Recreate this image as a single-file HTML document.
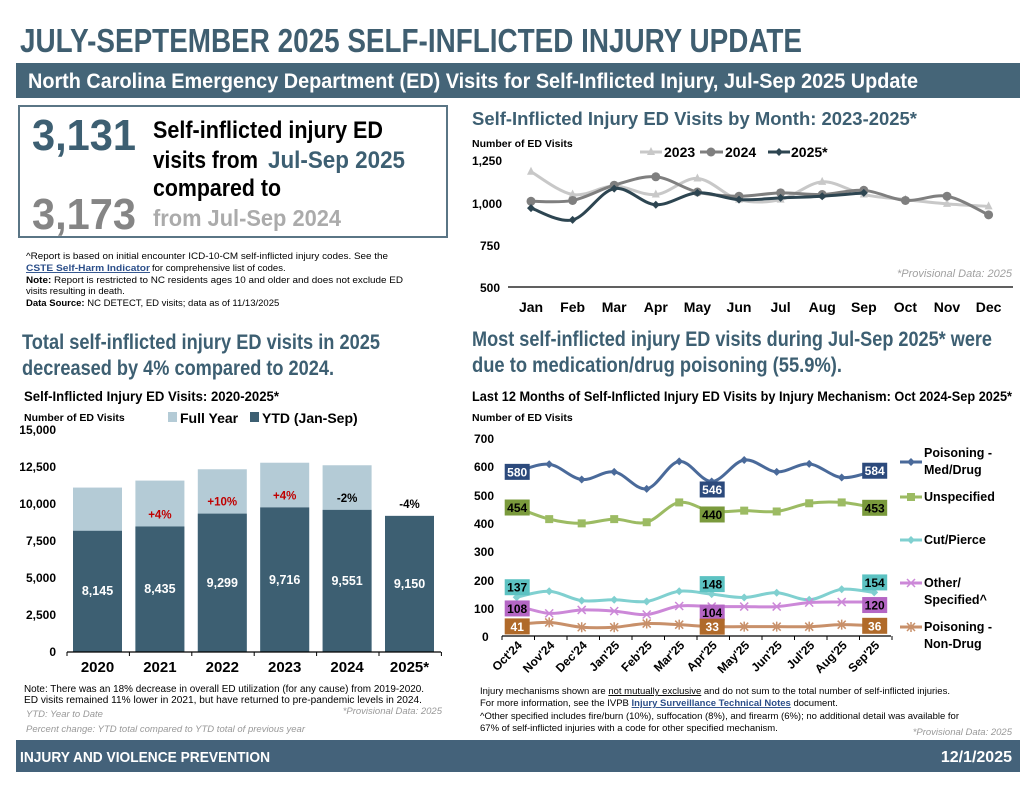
<!DOCTYPE html>
<html><head><meta charset="utf-8"><style>
html,body{margin:0;padding:0;background:#fff;}
svg{display:block;font-family:"Liberation Sans Narrow","Liberation Sans",sans-serif;}
.c{font-family:"Liberation Sans Narrow","Liberation Sans",sans-serif;font-weight:bold;}
.a{font-family:"Liberation Sans",sans-serif;}
</style></head><body>
<svg id="s" width="1036" height="790" viewBox="0 0 1036 790" xmlns="http://www.w3.org/2000/svg">
<rect width="1036" height="790" fill="#fff"/>
<text x="20" y="52" class="c" font-size="33" fill="#3f5e70" textLength="782" lengthAdjust="spacingAndGlyphs">JULY-SEPTEMBER 2025 SELF-INFLICTED INJURY UPDATE</text>
<rect x="16" y="63" width="1004" height="35" fill="#456578"/>
<text x="28" y="88" class="c" font-size="21" fill="#fff" textLength="890" lengthAdjust="spacingAndGlyphs">North Carolina Emergency Department (ED) Visits for Self-Inflicted Injury, Jul-Sep 2025 Update</text>

<rect x="19" y="106" width="428" height="131" fill="none" stroke="#5a7585" stroke-width="2"/>
<text x="32" y="150" class="c" font-size="44" fill="#3d5f72" textLength="104" lengthAdjust="spacingAndGlyphs">3,131</text>
<text x="32" y="229" class="c" font-size="44" fill="#858585" textLength="104" lengthAdjust="spacingAndGlyphs">3,173</text>
<text x="153" y="138" class="c" font-size="24" fill="#000" textLength="230" lengthAdjust="spacingAndGlyphs">Self-inflicted injury ED</text>
<text x="153" y="168" class="c" font-size="24" fill="#000" textLength="105" lengthAdjust="spacingAndGlyphs">visits from</text>
<text x="268" y="168" class="c" font-size="24" fill="#3d5f72" textLength="137" lengthAdjust="spacingAndGlyphs">Jul-Sep 2025</text>
<text x="153" y="196" class="c" font-size="24" fill="#000" textLength="128" lengthAdjust="spacingAndGlyphs">compared to</text>
<text x="153" y="226" class="c" font-size="23" fill="#ababab" textLength="188" lengthAdjust="spacingAndGlyphs">from Jul-Sep 2024</text>

<g class="a" font-size="9.5" fill="#000">
<text x="26" y="259" textLength="362" lengthAdjust="spacingAndGlyphs">^Report is based on initial encounter ICD-10-CM self-inflicted injury codes. See the</text>
<text x="26" y="271" fill="#2c4f8a" font-weight="bold" text-decoration="underline" textLength="124" lengthAdjust="spacingAndGlyphs">CSTE Self-Harm Indicator</text>
<text x="152" y="271">for comprehensive list of codes.</text>
<text x="26" y="283" textLength="377" lengthAdjust="spacingAndGlyphs"><tspan font-weight="bold">Note:</tspan> Report is restricted to NC residents ages 10 and older and does not exclude ED</text>
<text x="26" y="294">visits resulting in death.</text>
<text x="26" y="306"><tspan font-weight="bold">Data Source:</tspan> NC DETECT, ED visits; data as of 11/13/2025</text>
</g>

<text x="472" y="125" class="c" font-size="18" fill="#3d5f72" textLength="445" lengthAdjust="spacingAndGlyphs">Self-Inflicted Injury ED Visits by Month: 2023-2025*</text>
<text x="472" y="147" class="c" font-size="10.5" fill="#000">Number of ED Visits</text>
<g class="c" font-size="12" fill="#000">
<text x="472" y="165">1,250</text><text x="472" y="208">1,000</text><text x="480" y="250">750</text><text x="480" y="292">500</text>
</g>
<line x1="508" y1="287" x2="1013" y2="287" stroke="#000" stroke-width="1.3"/>
<g class="c" font-size="14" fill="#000" text-anchor="middle" id="months"></g>
<text x="1012" y="277" class="a" font-style="italic" font-size="11" fill="#a0a0a0" text-anchor="end">*Provisional Data: 2025</text>
<g id="topc"></g>
<line x1="640" y1="152" x2="662" y2="152" stroke="#c8c8c8" stroke-width="3"/><path d="M651 147 L655 155 L647 155 Z" fill="#c8c8c8"/>
<text x="664" y="157" class="c" font-size="14" fill="#000">2023</text>
<line x1="700" y1="152" x2="723" y2="152" stroke="#7f7f7f" stroke-width="3"/><circle cx="711" cy="152" r="4.5" fill="#7f7f7f"/>
<text x="725" y="157" class="c" font-size="14" fill="#000">2024</text>
<line x1="768" y1="152" x2="790" y2="152" stroke="#2d4551" stroke-width="3"/><path d="M779 148 L783 152 L779 156 L775 152 Z" fill="#2d4551"/>
<text x="791" y="157" class="c" font-size="14" fill="#000">2025*</text>

<text x="22" y="349" class="c" font-size="21" fill="#3d5f72" textLength="358" lengthAdjust="spacingAndGlyphs">Total self-inflicted injury ED visits in 2025</text>
<text x="22" y="375" class="c" font-size="21" fill="#3d5f72" textLength="312" lengthAdjust="spacingAndGlyphs">decreased by 4% compared to 2024.</text>
<text x="24" y="401" class="c" font-size="13.5" fill="#000" textLength="255" lengthAdjust="spacingAndGlyphs">Self-Inflicted Injury ED Visits: 2020-2025*</text>
<text x="24" y="421" class="c" font-size="10.5" fill="#000">Number of ED Visits</text>
<rect x="168" y="412" width="9" height="10" fill="#b4cbd6"/>
<text x="180" y="423" class="c" font-size="14" fill="#000">Full Year</text>
<rect x="250" y="412" width="9" height="10" fill="#3d5f72"/>
<text x="262" y="423" class="c" font-size="14" fill="#000">YTD (Jan-Sep)</text>
<g class="c" font-size="12" fill="#000" text-anchor="end">
<text x="56" y="434">15,000</text><text x="56" y="471">12,500</text><text x="56" y="508">10,000</text><text x="56" y="545">7,500</text><text x="56" y="582">5,000</text><text x="56" y="619">2,500</text><text x="56" y="656">0</text>
</g>
<g id="bars"></g>
<g class="a" font-size="10" fill="#000">
<text x="24" y="692" textLength="400" lengthAdjust="spacingAndGlyphs">Note: There was an 18% decrease in overall ED utilization (for any cause) from 2019-2020.</text>
<text x="24" y="703" textLength="398" lengthAdjust="spacingAndGlyphs">ED visits remained 11% lower in 2021, but have returned to pre-pandemic levels in 2024.</text>
</g>
<g class="a" font-style="italic" font-size="9.5" fill="#999">
<text x="26" y="717">YTD: Year to Date</text>
<text x="442" y="714" text-anchor="end">*Provisional Data: 2025</text>
<text x="26" y="732">Percent change: YTD total compared to YTD total of previous year</text>
</g>

<text x="472" y="346" class="c" font-size="21" fill="#3d5f72" textLength="520" lengthAdjust="spacingAndGlyphs">Most self-inflicted injury ED visits during Jul-Sep 2025* were</text>
<text x="472" y="372" class="c" font-size="21" fill="#3d5f72" textLength="370" lengthAdjust="spacingAndGlyphs">due to medication/drug poisoning (55.9%).</text>
<text x="472" y="401" class="c" font-size="13.5" fill="#000" textLength="540" lengthAdjust="spacingAndGlyphs">Last 12 Months of Self-Inflicted Injury ED Visits by Injury Mechanism: Oct 2024-Sep 2025*</text>
<text x="472" y="421" class="c" font-size="10.5" fill="#000">Number of ED Visits</text>
<g class="c" font-size="12" fill="#000">
<text x="474" y="443">700</text><text x="474" y="471">600</text><text x="474" y="500">500</text><text x="474" y="528">400</text><text x="474" y="556">300</text><text x="474" y="585">200</text><text x="474" y="613">100</text><text x="482" y="641">0</text>
</g>
<line x1="502" y1="636" x2="891" y2="636" stroke="#000" stroke-width="1.3"/>
<g id="br"></g>
<g id="brl"></g>
<g class="c" font-size="12" fill="#000" id="xl"></g>
<g class="c" font-size="12.5" fill="#000">
<text x="924" y="457">Poisoning -</text><text x="924" y="474">Med/Drug</text>
<text x="924" y="501">Unspecified</text>
<text x="924" y="544">Cut/Pierce</text>
<text x="924" y="587">Other/</text><text x="924" y="604">Specified^</text>
<text x="924" y="631">Poisoning -</text><text x="924" y="648">Non-Drug</text>
</g>
<g id="leg2"></g>
<g class="a" font-size="9.5" fill="#000">
<text x="480" y="694">Injury mechanisms shown are <tspan text-decoration="underline">not mutually exclusive</tspan> and do not sum to the total number of self-inflicted injuries.</text>
<text x="480" y="706">For more information, see the IVPB <tspan fill="#2c4f8a" font-weight="bold" text-decoration="underline">Injury Surveillance Technical Notes</tspan> document.</text>
<text x="480" y="719">^Other specified includes fire/burn (10%), suffocation (8%), and firearm (6%); no additional detail was available for</text>
<text x="480" y="731">67% of self-inflicted injuries with a code for other specified mechanism.</text>
</g>
<text x="1012" y="735" class="a" font-style="italic" font-size="9.5" fill="#999" text-anchor="end">*Provisional Data: 2025</text>

<rect x="16" y="740" width="1004" height="32" fill="#44627a"/>
<text x="20" y="762" class="c" font-size="15" fill="#fff" textLength="250" lengthAdjust="spacingAndGlyphs">INJURY AND VIOLENCE PREVENTION</text>
<text x="1012" y="762" class="c" font-size="16" fill="#fff" text-anchor="end">12/1/2025</text>
</svg>
<script>
(function(){
var NS="http://www.w3.org/2000/svg";
function el(p,t,a,txt){var e=document.createElementNS(NS,t);for(var k in a)e.setAttribute(k,a[k]);if(txt!==undefined)e.textContent=txt;p.appendChild(e);return e;}
function smooth(pts){var d="M"+pts[0][0]+" "+pts[0][1];for(var i=0;i<pts.length-1;i++){var p0=pts[i-1]||pts[i],p1=pts[i],p2=pts[i+1],p3=pts[i+2]||p2;var t=6;d+=" C"+(p1[0]+(p2[0]-p0[0])/t)+" "+(p1[1]+(p2[1]-p0[1])/t)+" "+(p2[0]-(p3[0]-p1[0])/t)+" "+(p2[1]-(p3[1]-p1[1])/t)+" "+p2[0]+" "+p2[1];}return d;}
function fmt(n){var s=String(n);return s.length>3?s.slice(0,s.length-3)+","+s.slice(-3):s;}
var M=["Jan","Feb","Mar","Apr","May","Jun","Jul","Aug","Sep","Oct","Nov","Dec"];
var mg=document.getElementById("months");
M.forEach(function(m,i){el(mg,"text",{x:531+41.6*i,y:312},m);});
var tg=document.getElementById("topc");
function ty(v){return 203-(v-1000)*0.1692;}
var S=[
 {d:[1185,1050,1100,1050,1145,1020,1020,1125,1050,1020,995,980],c:"#c8c8c8",m:"tri"},
 {d:[1010,1015,1105,1155,1065,1040,1060,1050,1075,1015,1040,930],c:"#7f7f7f",m:"cir"},
 {d:[970,900,1085,990,1060,1020,1030,1040,1060],c:"#2d4551",m:"dia"}];
S.forEach(function(s){var pts=s.d.map(function(v,i){return [531+41.6*i,ty(v)];});
 el(tg,"path",{d:smooth(pts),fill:"none",stroke:s.c,"stroke-width":3});
 pts.forEach(function(p){if(s.m=="cir")el(tg,"circle",{cx:p[0],cy:p[1],r:4.5,fill:s.c});
 else if(s.m=="tri")el(tg,"path",{d:"M"+p[0]+" "+(p[1]-5)+" l4 8 l-8 0 z",fill:s.c});
 else el(tg,"path",{d:"M"+p[0]+" "+(p[1]-4)+" l4 4 l-4 4 l-4 -4 z",fill:s.c});});});
var bg=document.getElementById("bars");
function by(v){return 652-v*0.01488;}
var full=[11050,11520,12280,12720,12550,null],ytd=[8145,8435,9299,9716,9551,9150];
var yrs=["2020","2021","2022","2023","2024","2025*"],pct=[null,"+4%","+10%","+4%","-2%","-4%"];
var numy=[595,593,587,584,585,588];
for(var i=0;i<6;i++){var x=73+62.4*i;
 if(full[i])el(bg,"rect",{x:x,y:by(full[i]),width:49,height:652-by(full[i]),fill:"#b4cbd6"});
 el(bg,"rect",{x:x,y:by(ytd[i]),width:49,height:652-by(ytd[i]),fill:"#3d5f72"});
 el(bg,"text",{x:x+24.5,y:numy[i],"text-anchor":"middle","class":"c","font-size":"12.5",fill:"#fff"},fmt(ytd[i]));
 el(bg,"text",{x:x+24.5,y:672,"text-anchor":"middle","class":"c","font-size":"15",fill:"#000"},yrs[i]);
 if(pct[i])el(bg,"text",{x:x+24.5,y:by(ytd[i])-8,"text-anchor":"middle","class":"c","font-size":"11.5",fill:(pct[i][0]=="+"?"#c00000":"#000")},pct[i]);
}
el(bg,"line",{x1:67,y1:652,x2:441,y2:652,stroke:"#000","stroke-width":1.3});
for(var i=0;i<7;i++)el(bg,"line",{x1:67+62.4*i,y1:652,x2:67+62.4*i,y2:656,stroke:"#000"});
var br=document.getElementById("br"),brl=document.getElementById("brl");
function ry(v){return 636-v*0.283;}
function rx(i){return 516.7+32.5*i;}
var R=[
 {d:[580,607,553,580,520,617,546,622,580,608,560,584],c:"#4a6a9a",b:"#2c4a7c",tc:"#fff",m:"dia",ly:462,off:[0,8,0]},
 {d:[454,413,398,413,402,472,440,443,440,469,472,453],c:"#9cbb63",b:"#7a9a3c",tc:"#000",m:"sq",ly:497,off:[0,3,0]},
 {d:[137,158,125,128,122,158,148,136,153,128,165,154],c:"#80d0d0",b:"#5cc2c2",tc:"#000",m:"dia",ly:540,off:[-10,-10,-10]},
 {d:[108,80,92,88,76,106,104,104,104,118,120,120],c:"#cc88d8",b:"#b466c4",tc:"#000",m:"x",ly:583,off:[3,6,3]},
 {d:[41,48,31,31,44,40,33,33,33,33,40,36],c:"#c8906a",b:"#b06a2a",tc:"#fff",m:"st",ly:627,off:[2,0,0]}];
var lg=document.getElementById("leg2");
function mk(g,m,x,y,c){if(m=="dia")el(g,"path",{d:"M"+x+" "+(y-4)+" l4 4 l-4 4 l-4 -4 z",fill:c});
 else if(m=="sq")el(g,"rect",{x:x-4,y:y-4,width:8,height:8,fill:c});
 else if(m=="x")el(g,"path",{d:"M"+(x-4)+" "+(y-4)+" l8 8 M"+(x+4)+" "+(y-4)+" l-8 8",stroke:c,"stroke-width":1.5});
 else el(g,"path",{d:"M"+(x-4)+" "+(y-4)+" l8 8 M"+(x+4)+" "+(y-4)+" l-8 8 M"+x+" "+(y-5)+" l0 10",stroke:c,"stroke-width":1.5});}
R.forEach(function(s){var pts=s.d.map(function(v,i){return [rx(i),ry(v)];});
 el(br,"path",{d:smooth(pts),fill:"none",stroke:s.c,"stroke-width":3});
 pts.forEach(function(p){mk(br,s.m,p[0],p[1],s.c);});
 [0,6,11].forEach(function(i,k){var p=pts[i];var cy=p[1]+s.off[k];
  el(brl,"rect",{x:p[0]-12,y:cy-8,width:25,height:16,fill:s.b});
  el(brl,"text",{x:p[0]+0.5,y:cy+4.5,"text-anchor":"middle","class":"c","font-size":"12","fill":s.tc},String(s.d[i]));});
 el(lg,"line",{x1:900,y1:s.ly,x2:922,y2:s.ly,stroke:s.c,"stroke-width":3});mk(lg,s.m,911,s.ly,s.c);
});
for(var i=0;i<=12;i++)el(br,"line",{x1:502+32.5*i,y1:636,x2:502+32.5*i,y2:640,stroke:"#000"});
var XL=["Oct'24","Nov'24","Dec'24","Jan'25","Feb'25","Mar'25","Apr'25","May'25","Jun'25","Jul'25","Aug'25","Sep'25"];
var xg=document.getElementById("xl");
XL.forEach(function(t,i){var x=rx(i)+6,y=646;el(xg,"text",{x:x,y:y,"text-anchor":"end",transform:"rotate(-45 "+x+" "+y+")"},t);});
})();
</script>
</body></html>
